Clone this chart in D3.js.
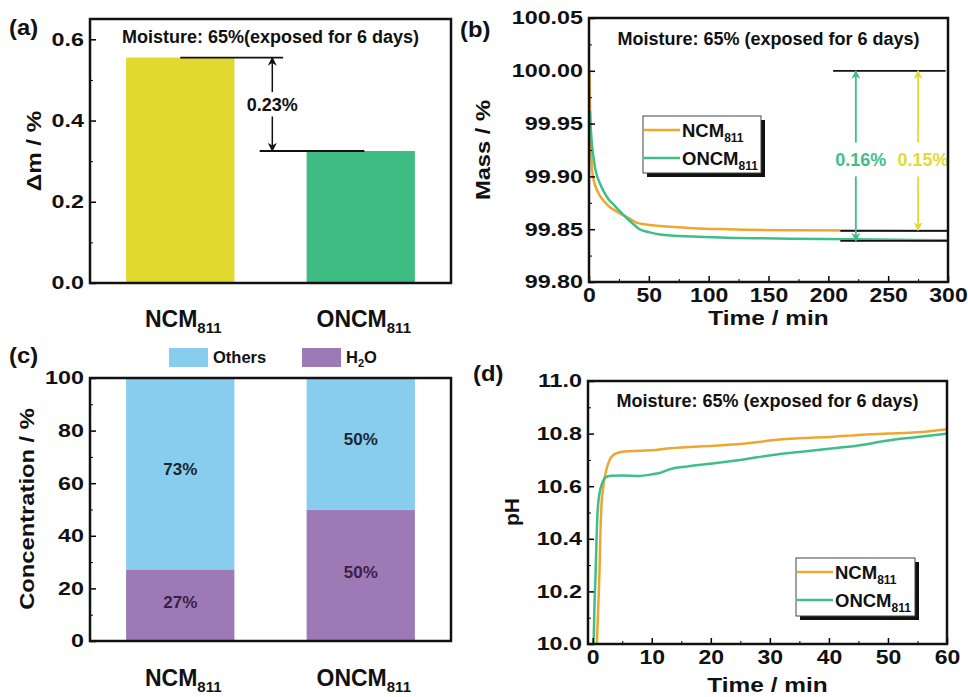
<!DOCTYPE html>
<html>
<head>
<meta charset="utf-8">
<script src="https://cdn.jsdelivr.net/npm/d3@7"></script>
<style>
body { margin: 0; background: #fff; }
svg { display: block; }
text { font-family: Arial, "Liberation Sans", sans-serif; font-weight: bold; fill: #111; }
</style>
</head>
<body>
<svg width="968" height="697"></svg>
<script>
// ---- data ----
var samples = ["NCM", "ONCM"];
var massLoss = [0.555, 0.325];        // (a) Δm after 6 days, %
var h2oShare = [27, 50];              // (c) H2O part, %
var othersShare = [73, 50];           // (c) other part, %

// (b) mass vs time [min, %]
var ncmMass = [[0.3,100.0],[1,99.96],[1.6,99.93],[2.3,99.91],[3.3,99.9],[5,99.892],[8.9,99.882],
    [13,99.876],[17.3,99.871],[25.7,99.865],[34,99.86],[40,99.856],[45,99.855],[60,99.853],
    [87,99.851],[115,99.85],[170,99.849],[240,99.8487],[300,99.8485]];
var oncmMass = [[0.8,99.962],[1.5,99.945],[2.5,99.93],[3.3,99.922],[4.8,99.91],[6.1,99.903],
    [8.9,99.894],[11.7,99.887],[17.3,99.877],[20,99.874],[25.7,99.867],[28.4,99.864],[36.8,99.855],
    [42.3,99.85],[50.7,99.847],[59,99.845],[87,99.843],[115,99.842],[170,99.841],[240,99.8402],[300,99.8395]];

// (d) pH vs time [min, pH]
var ncmPH = [[0.7,10.0],[0.9,10.12],[1.15,10.28],[1.3,10.42],[1.5,10.535],[1.75,10.59],[2.0,10.63],
    [2.4,10.67],[2.85,10.70],[3.3,10.715],[3.9,10.724],[5.4,10.732],[8,10.735],[10.7,10.738],
    [13,10.744],[20.6,10.754],[25,10.76],[30.9,10.776],[35,10.782],[40.8,10.788],[45,10.795],
    [50,10.80],[55,10.805],[60,10.817]];
var oncmPH = [[0.15,10.0],[0.3,10.15],[0.47,10.256],[0.65,10.4],[0.81,10.497],[1.15,10.573],
    [1.5,10.605],[2.0,10.63],[2.6,10.638],[3.2,10.64],[5,10.641],[7.9,10.639],[10,10.645],
    [11.3,10.65],[13,10.664],[16,10.675],[20.6,10.687],[25,10.70],[30.9,10.72],[35,10.73],
    [40.8,10.744],[45,10.755],[50.6,10.776],[55,10.787],[60,10.80]];

var ticksA = [0, 0.2, 0.4, 0.6], minorA = [0.1, 0.3, 0.5];
var ticksMassY = [99.80, 99.85, 99.90, 99.95, 100.00, 100.05], minorMassY = [99.825, 99.875, 99.925, 99.975, 100.025];
var ticksMassX = [0, 50, 100, 150, 200, 250, 300], minorMassX = [25, 75, 125, 175, 225, 275];
var ticksC = [0, 20, 40, 60, 80, 100], minorC = [10, 30, 50, 70, 90];
var ticksPHY = [10.0, 10.2, 10.4, 10.6, 10.8, 11.0], minorPHY = [10.1, 10.3, 10.5, 10.7, 10.9];
var ticksPHX = [0, 10, 20, 30, 40, 50, 60], minorPHX = [5, 15, 25, 35, 45, 55];

var moistureNote = "Moisture: 65% (exposed for 6 days)";

// ---- colours ----
var barColors = ["#E2D92E", "#3FBB84"];
var lineColors = ["#EDA731", "#3EBF88"];
var othersColor = "#88CDEE", h2oColor = "#9D7AB6";
var arrowYellow = "#E3DA36";

var svg = d3.select("svg");

var defs = svg.append("defs");
function addMarker(id, color) {
    defs.append("marker")
        .attr("id", id)
        .attr("viewBox", "0 0 10 10")
        .attr("refX", 9).attr("refY", 5)
        .attr("markerWidth", 9).attr("markerHeight", 9)
        .attr("markerUnits", "userSpaceOnUse")
        .attr("orient", "auto")
        .append("path")
        .attr("d", "M0,0 L10,5 L0,10 L3,5 Z")
        .attr("fill", color);
}
addMarker("arrK", "#111");
addMarker("arrG", lineColors[1]);
addMarker("arrY", arrowYellow);

// squeeze text wider, the figure's font is broad
function stretch(sel, k) {
    sel.each(function() {
        var w = this.getComputedTextLength();
        d3.select(this).attr("textLength", w * k).attr("lengthAdjust", "spacingAndGlyphs");
    });
}

function leftAxis(x0, y, major, minor, fmt) {
    svg.append("g").attr("transform", "translate(" + x0 + ",0)")
        .call(d3.axisLeft(y).tickValues(minor).tickSize(-3).tickFormat(""))
        .call(function(g) { g.select(".domain").remove(); });
    var g = svg.append("g").attr("transform", "translate(" + x0 + ",0)")
        .call(d3.axisLeft(y).tickValues(major).tickSize(-6).tickPadding(6).tickFormat(fmt));
    g.select(".domain").remove();
    g.selectAll("line").attr("stroke-width", 1.5);
    g.selectAll("text").style("font-size", "18.5px");
    stretch(g.selectAll("text"), 1.26);
}

function bottomAxis(y0, x, major, minor) {
    svg.append("g").attr("transform", "translate(0," + y0 + ")")
        .call(d3.axisBottom(x).tickValues(minor).tickSize(-3).tickFormat(""))
        .call(function(g) { g.select(".domain").remove(); });
    var g = svg.append("g").attr("transform", "translate(0," + y0 + ")")
        .call(d3.axisBottom(x).tickValues(major).tickSize(-6).tickPadding(6).tickFormat(d3.format("d")));
    g.select(".domain").remove();
    g.selectAll("line").attr("stroke-width", 1.5);
    g.selectAll("text").style("font-size", "20px");
    stretch(g.selectAll("text"), 1.15);
}

function frame(x, y) {
    svg.append("rect")
        .attr("x", x.range()[0]).attr("y", y.range()[1])
        .attr("width", x.range()[1] - x.range()[0])
        .attr("height", y.range()[0] - y.range()[1])
        .attr("fill", "none").attr("stroke", "#111").attr("stroke-width", 2.5);
}

function yTitle(cx, cy, txt, k) {
    var t = svg.append("text")
        .attr("transform", "translate(" + cx + "," + cy + ") rotate(-90)")
        .attr("text-anchor", "middle").attr("dy", "0.35em")
        .style("font-size", "21px").text(txt);
    stretch(t, k);
}

function xTitle(cx, y, txt) {
    var t = svg.append("text").attr("x", cx).attr("y", y)
        .attr("text-anchor", "middle").style("font-size", "20px").text(txt);
    stretch(t, 1.22);
}

function panelLabel(x, y, txt) {
    var t = svg.append("text").attr("x", x).attr("y", y).style("font-size", "22px").text(txt);
    stretch(t, 1.08);
}

function sampleLabel(sel, size, subSize, drop) {
    sel.append("tspan").text(function(d) { return d; });
    sel.append("tspan").attr("dy", drop).style("font-size", subSize + "px").text("811");
    sel.style("font-size", size + "px");
}

function legendBox(x0, y0, w, h) {
    svg.append("rect").attr("x", x0 + 4).attr("y", y0 + 4).attr("width", w).attr("height", h).attr("fill", "#111");
    svg.append("rect").attr("x", x0).attr("y", y0).attr("width", w).attr("height", h)
        .attr("fill", "#fff").attr("stroke", "#444").attr("stroke-width", 1);
    var rows = svg.selectAll(null).data(samples).join("g")
        .attr("transform", function(d, i) { return "translate(" + x0 + "," + (y0 + 14 + i * 28) + ")"; });
    rows.append("line").attr("x1", 1).attr("x2", 37).attr("y1", 0).attr("y2", 0)
        .attr("stroke", function(d, i) { return lineColors[i]; }).attr("stroke-width", 2.5);
    var t = rows.append("text").attr("x", 39).attr("y", 7);
    sampleLabel(t, 18.5, 12, 5);
}

// ================= (a) =================
var xa = d3.scaleLinear().domain([0.5, 2.5]).range([90, 451]);
var ya = d3.scaleLinear().domain([0, 0.65]).range([283, 19]);

svg.selectAll(".barA").data(samples).join("rect")
    .attr("class", "barA")
    .attr("x", function(d, i) { return xa(i + 1 - 0.3); })
    .attr("width", xa(1.3) - xa(0.7))
    .attr("y", function(d, i) { return ya(massLoss[i]); })
    .attr("height", function(d, i) { return ya(0) - ya(massLoss[i]); })
    .attr("fill", function(d, i) { return barColors[i]; });

// difference marker
var levelsA = [[1.0, 1.57, massLoss[0]], [1.44, 2.02, massLoss[1]]];
svg.selectAll(".lvlA").data(levelsA).join("line")
    .attr("x1", function(d) { return xa(d[0]); }).attr("x2", function(d) { return xa(d[1]); })
    .attr("y1", function(d) { return ya(d[2]); }).attr("y2", function(d) { return ya(d[2]); })
    .attr("stroke", "#111").attr("stroke-width", 1.8);
var midA = (massLoss[0] + massLoss[1]) / 2;
svg.append("line").attr("x1", xa(1.51)).attr("x2", xa(1.51))
    .attr("y1", ya(midA + 0.03)).attr("y2", ya(massLoss[0]))
    .attr("stroke", "#111").attr("stroke-width", 1.5).attr("marker-end", "url(#arrK)");
svg.append("line").attr("x1", xa(1.51)).attr("x2", xa(1.51))
    .attr("y1", ya(midA - 0.03)).attr("y2", ya(massLoss[1]))
    .attr("stroke", "#111").attr("stroke-width", 1.5).attr("marker-end", "url(#arrK)");
svg.append("text").attr("x", xa(1.51)).attr("y", ya(midA)).attr("dy", "0.35em")
    .attr("text-anchor", "middle").style("font-size", "18px")
    .text(((massLoss[0] - massLoss[1])).toFixed(2) + "%");

svg.append("text").attr("x", xa(1.5)).attr("y", 43).attr("text-anchor", "middle")
    .style("font-size", "18px").text("Moisture: 65%(exposed for 6 days)");

leftAxis(90, ya, ticksA, minorA, d3.format(".1f"));
frame(xa, ya);
yTitle(34, 151, "Δm / %", 1.15);
panelLabel(9, 35, "(a)");
sampleLabel(svg.selectAll(".catA").data(samples).join("text")
    .attr("class", "catA")
    .attr("x", function(d, i) { return xa(i + 1) + 3; }).attr("y", 327)
    .attr("text-anchor", "middle"), 23, 15, 6);

// ================= (b) =================
var xb = d3.scaleLinear().domain([0, 300]).range([589, 948]);
var yb = d3.scaleLinear().domain([99.80, 100.05]).range([282, 18]);
var lineB = d3.line().x(function(d) { return xb(d[0]); }).y(function(d) { return yb(d[1]); }).curve(d3.curveMonotoneX);

svg.selectAll(".lineB").data([ncmMass, oncmMass]).join("path")
    .attr("class", "lineB")
    .attr("d", lineB).attr("fill", "none")
    .attr("stroke", function(d, i) { return lineColors[i]; }).attr("stroke-width", 2.5);

// loss markers
var lossLevels = [[204, 298, 100.00], [210, 300, ncmMass[ncmMass.length - 1][1]], [210, 300, 99.839]];
svg.selectAll(".lvlB").data(lossLevels).join("line")
    .attr("x1", function(d) { return xb(d[0]); }).attr("x2", function(d) { return xb(d[1]); })
    .attr("y1", function(d) { return yb(d[2]); }).attr("y2", function(d) { return yb(d[2]); })
    .attr("stroke", "#111").attr("stroke-width", 1.8);

var lossArrows = [
    {t: 223, low: 99.839, txt: "0.16%", color: lineColors[1], marker: "url(#arrG)"},
    {t: 275, low: 99.849, txt: "0.15%", color: arrowYellow, marker: "url(#arrY)"}
];
var midB = 99.916;
lossArrows.forEach(function(a) {
    svg.append("line").attr("x1", xb(a.t)).attr("x2", xb(a.t))
        .attr("y1", yb(midB + 0.016)).attr("y2", yb(100.00))
        .attr("stroke", a.color).attr("stroke-width", 1.8).attr("marker-end", a.marker);
    svg.append("line").attr("x1", xb(a.t)).attr("x2", xb(a.t))
        .attr("y1", yb(midB - 0.016)).attr("y2", yb(a.low))
        .attr("stroke", a.color).attr("stroke-width", 1.8).attr("marker-end", a.marker);
    svg.append("text").attr("x", xb(a.t) + 5).attr("y", yb(midB)).attr("dy", "0.35em")
        .attr("text-anchor", "middle").style("font-size", "18px")
        .style("fill", a.color).text(a.txt);
});

svg.append("text").attr("x", xb(150)).attr("y", 45).attr("text-anchor", "middle")
    .style("font-size", "18px").text(moistureNote);

legendBox(643, 116, 118, 57);
leftAxis(589, yb, ticksMassY, minorMassY, d3.format(".2f"));
bottomAxis(282, xb, ticksMassX, minorMassX);
frame(xb, yb);
yTitle(483, 150, "Mass / %", 1.13);
xTitle(xb(150), 325, "Time / min");
panelLabel(460, 37, "(b)");

// ================= (c) =================
var xc = d3.scaleLinear().domain([0.5, 2.5]).range([90, 451]);
var yc = d3.scaleLinear().domain([0, 100]).range([641, 378]);

var stackC = samples.map(function(s, i) {
    return [
        {i: i, lo: 0, hi: h2oShare[i], color: h2oColor, tc: "#3a1f47"},
        {i: i, lo: h2oShare[i], hi: h2oShare[i] + othersShare[i], color: othersColor, tc: "#1a2630"}
    ];
}).flat();

svg.selectAll(".barC").data(stackC).join("rect")
    .attr("class", "barC")
    .attr("x", function(d) { return xc(d.i + 1 - 0.3); })
    .attr("width", xc(1.3) - xc(0.7))
    .attr("y", function(d) { return yc(d.hi); })
    .attr("height", function(d) { return yc(d.lo) - yc(d.hi); })
    .attr("fill", function(d) { return d.color; });

svg.selectAll(".lblC").data(stackC).join("text")
    .attr("class", "lblC")
    .attr("x", function(d) { return xc(d.i + 1); })
    .attr("y", function(d) { return yc((d.lo + d.hi) / 2) + (d.lo === 0 ? -3 : -5); })
    .attr("dy", "0.35em").attr("text-anchor", "middle")
    .style("font-size", "17px").style("fill", function(d) { return d.tc; })
    .text(function(d) { return (d.hi - d.lo) + "%"; });

var legendC = [{name: "Others", color: othersColor}, {name: "H", color: h2oColor}];
var lg = svg.selectAll(".legC").data(legendC).join("g")
    .attr("class", "legC")
    .attr("transform", function(d, i) { return "translate(" + (169 + i * 133) + ",348)"; });
lg.append("rect").attr("width", 39).attr("height", 19).attr("fill", function(d) { return d.color; });
var lgt = lg.append("text").attr("x", 44).attr("y", 15).style("font-size", "16.5px");
lgt.append("tspan").text(function(d) { return d.name; });
lgt.filter(function(d) { return d.name === "H"; }).each(function() {
    var t = d3.select(this);
    t.append("tspan").attr("dy", 4).style("font-size", "11px").text("2");
    t.append("tspan").attr("dy", -4).text("O");
});

leftAxis(90, yc, ticksC, minorC, d3.format("d"));
frame(xc, yc);
yTitle(27, 509, "Concentration / %", 1.13);
panelLabel(9, 363, "(c)");
sampleLabel(svg.selectAll(".catC").data(samples).join("text")
    .attr("class", "catC")
    .attr("x", function(d, i) { return xc(i + 1) + 3; }).attr("y", 686)
    .attr("text-anchor", "middle"), 23, 15, 6);

// ================= (d) =================
var xd = d3.scaleLinear().domain([-0.8, 60]).range([588, 947]);
var yd = d3.scaleLinear().domain([10.0, 11.0]).range([644, 381]);
var lineD = d3.line().x(function(d) { return xd(d[0]); }).y(function(d) { return yd(d[1]); }).curve(d3.curveMonotoneX);

svg.selectAll(".lineD").data([ncmPH, oncmPH]).join("path")
    .attr("class", "lineD")
    .attr("d", lineD).attr("fill", "none")
    .attr("stroke", function(d, i) { return lineColors[i]; }).attr("stroke-width", 2.5);

svg.append("text").attr("x", xd(29.6)).attr("y", 407).attr("text-anchor", "middle")
    .style("font-size", "18px").text(moistureNote);

legendBox(796, 558, 119, 58);
leftAxis(588, yd, ticksPHY, minorPHY, d3.format(".1f"));
bottomAxis(644, xd, ticksPHX, minorPHX);
frame(xd, yd);
yTitle(512, 512, "pH", 1.0);
xTitle(xd(29.6), 692, "Time / min");
panelLabel(473, 381, "(d)");
</script>
</body>
</html>
